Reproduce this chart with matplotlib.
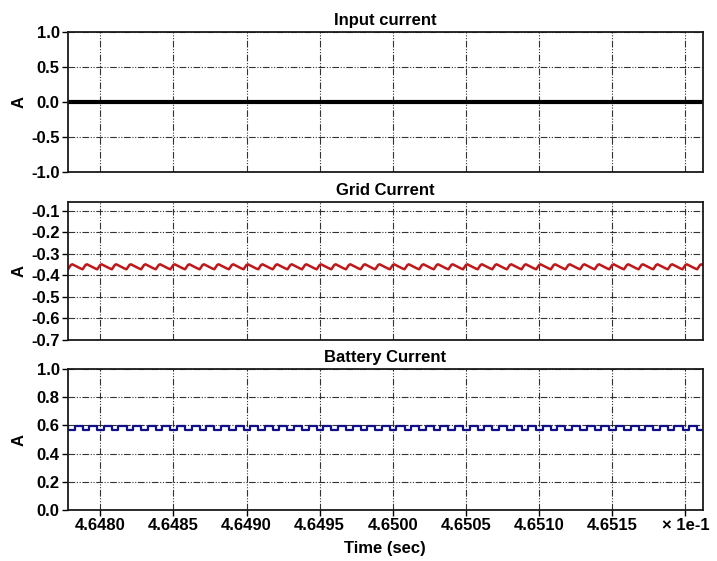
import numpy as np
import matplotlib.pyplot as plt

plt.rcParams['font.family'] = ['Liberation Sans', 'DejaVu Sans']
plt.rcParams['font.weight'] = 'bold'
plt.rcParams['font.size'] = 12

# time window and switching period, seconds
t_start, t_stop = 0.464778, 0.465212
t_sw = 1.0e-5

# input current stays at zero
input_level = 0.0

# one switching period of each waveform: fraction of period -> A
grid_phase = [0.0, 0.2, 0.3, 0.85, 1.0]
grid_cycle = [-0.372, -0.352, -0.349, -0.368, -0.372]
batt_phase = [0.0, 0.0, 0.45, 0.45, 1.0]
batt_cycle = [0.595, 0.567, 0.567, 0.595, 0.595]

xtick_pos = [0.46480, 0.46485, 0.46490, 0.46495, 0.46500,
             0.46505, 0.46510, 0.46515, 0.46520]
xtick_lbl = ['4.6480', '4.6485', '4.6490', '4.6495', '4.6500',
             '4.6505', '4.6510', '4.6515', '\u00d7 1e-1']


def periodic(phase, cycle):
    n = int(np.ceil((t_stop - t_start) / t_sw)) + 1
    k = np.arange(n)[:, None]
    t = (t_start + (k + np.array(phase)) * t_sw).ravel()
    y = np.tile(cycle, n)
    return t, y


grid_style = (0, (6, 1.5, 1, 1.5, 1, 1.5))

fig = plt.figure(figsize=(7.17, 5.61), dpi=100)
H = 561.0
W = 717.0
left, width = 68 / W, 635 / W
boxes = [(32, 172), (202, 340), (369, 510)]
axes = [fig.add_axes([left, 1 - b / H, width, (b - t) / H]) for t, b in boxes]

titles = ['Input current', 'Grid Current', 'Battery Current']
ylims = [(-1.0, 1.0), (-0.7, -0.06), (0.0, 1.0)]
yticks = [[-1.0, -0.5, 0.0, 0.5, 1.0],
          [-0.7, -0.6, -0.5, -0.4, -0.3, -0.2, -0.1],
          [0.0, 0.2, 0.4, 0.6, 0.8, 1.0]]

for ax, title, yl, yt in zip(axes, titles, ylims, yticks):
    ax.set_xlim(t_start, t_stop)
    ax.set_ylim(*yl)
    ax.set_yticks(yt)
    ax.set_yticklabels(['%.1f' % v for v in yt])
    ax.set_xticks(xtick_pos)
    ax.set_title(title, fontsize=12, fontweight='bold', pad=5)
    ax.set_ylabel('A', fontsize=12, fontweight='bold')
    ax.yaxis.set_label_coords(-0.065, 0.5)
    ax.grid(True, color='0.2', linestyle=grid_style, linewidth=0.8)
    ax.tick_params(direction='out', length=4, width=1, pad=2)
    for s in ax.spines.values():
        s.set_linewidth(1.3)
        s.set_color('0.1')
    ax.set_axisbelow(True)

for ax in axes[:2]:
    ax.tick_params(axis='x', length=0, labelbottom=False)
axes[2].set_xticklabels(xtick_lbl)

axes[0].plot([t_start, t_stop], [input_level, input_level],
             color='black', linewidth=3)

t, y = periodic(grid_phase, grid_cycle)
axes[1].plot(t, y, color='#c01818', linewidth=1.8)

t, y = periodic(batt_phase, batt_cycle)
axes[2].plot(t, y, color='#10108a', linewidth=1.6)

fig.text((68 + 317) / W, 1 - 548 / H, 'Time (sec)', ha='center', va='center',
         fontsize=12, fontweight='bold')

fig.savefig('out.png', dpi=100)
